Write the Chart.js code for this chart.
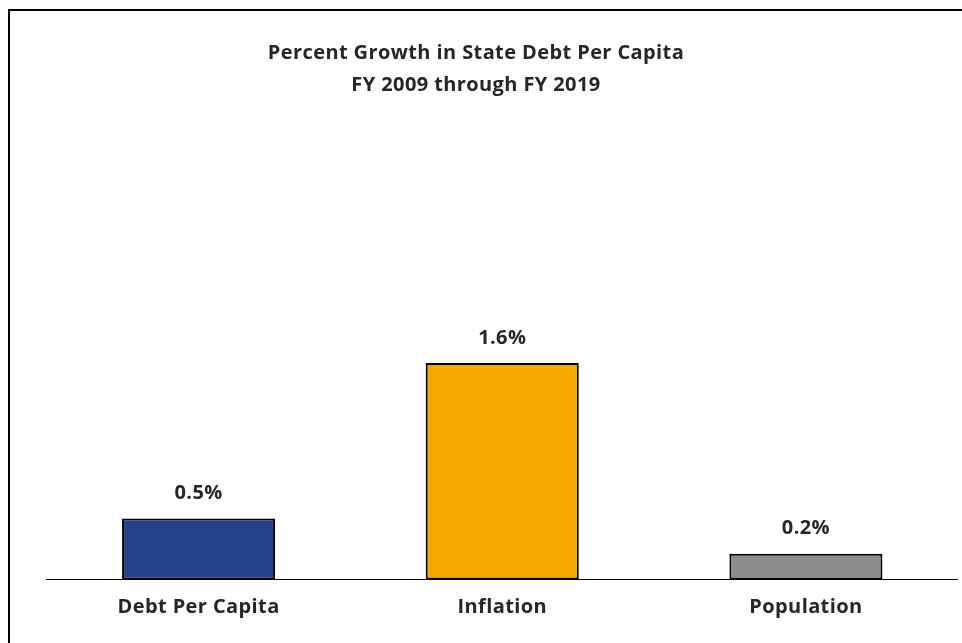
<!DOCTYPE html>
<html>
<head>
<meta charset="utf-8">
<script src="https://cdn.jsdelivr.net/npm/chart.js@4"></script>
<style>
    body { margin: 0; background: #ffffff; }
    #wrap { position: relative; width: 962px; height: 643px; overflow: hidden; }
    #frame {
        position: absolute; left: 8px; top: 9px; width: 1000px; height: 700px;
        border-top: 2px solid #000000; border-left: 2px solid #000000;
    }
    canvas { position: absolute; left: 0; top: 0; }
</style>
</head>
<body>
<div id="wrap">
    <div id="frame"></div>
    <canvas id="growth-chart" width="962" height="643"></canvas>
</div>
<script>
// Dados do gráfico
const categories = ['Debt Per Capita', 'Inflation', 'Population'];
const growthValues = [0.45, 1.6, 0.19];
const valueLabels = ['0.5%', '1.6%', '0.2%'];
const titleLines = ['Percent Growth in State Debt Per Capita', 'FY 2009 through FY 2019'];

const COLORS = {
    debt: '#26418c',
    inflation: '#f5a800',
    population: '#8c8c8c',
    text: '#262626'
};

const FONT = "'Open Sans', 'Lato', sans-serif";

// espaçamento de letras um pouco mais aberto (parecido com Calibri)
const spacingPlugin = {
    id: 'spacing',
    beforeDraw(chart) {
        chart.ctx.letterSpacing = '0.4px';
    }
};

// título em duas linhas e rótulos de valor acima das barras
const annotatePlugin = {
    id: 'annotate',
    afterDatasetsDraw(chart) {
        const ctx = chart.ctx;
        ctx.save();
        ctx.letterSpacing = '0.4px';
        ctx.fillStyle = COLORS.text;
        ctx.textAlign = 'center';
        ctx.textBaseline = 'middle';
        ctx.font = `bold 20px ${FONT}`;
        titleLines.forEach((line, i) => {
            ctx.fillText(line, 476, 53 + i * 32);
        });
        const meta = chart.getDatasetMeta(0);
        meta.data.forEach((bar, i) => {
            ctx.fillText(valueLabels[i], bar.x, bar.y - 25);
        });
        ctx.restore();
    }
};

const ctx = document.getElementById('growth-chart').getContext('2d');
new Chart(ctx, {
    type: 'bar',
    data: {
        labels: categories,
        datasets: [{
            data: growthValues,
            backgroundColor: [COLORS.debt, COLORS.inflation, COLORS.population],
            borderColor: '#000000',
            borderWidth: 2,
            borderSkipped: false,
            barPercentage: 0.504,
            categoryPercentage: 1
        }]
    },
    options: {
        responsive: false,
        animation: false,
        layout: {
            padding: { left: 46.75, right: 4.25, top: 309, bottom: 7.6 }
        },
        plugins: {
            legend: { display: false },
            title: { display: false },
            tooltip: { enabled: false }
        },
        scales: {
            y: {
                display: false,
                min: 0,
                max: 2
            },
            x: {
                grid: { display: false, drawTicks: false },
                border: { display: true, color: '#000000', width: 1 },
                ticks: {
                    color: COLORS.text,
                    padding: 16,
                    font: { family: FONT, size: 20, weight: 'bold' }
                }
            }
        }
    },
    plugins: [spacingPlugin, annotatePlugin]
});
</script>
</body>
</html>
